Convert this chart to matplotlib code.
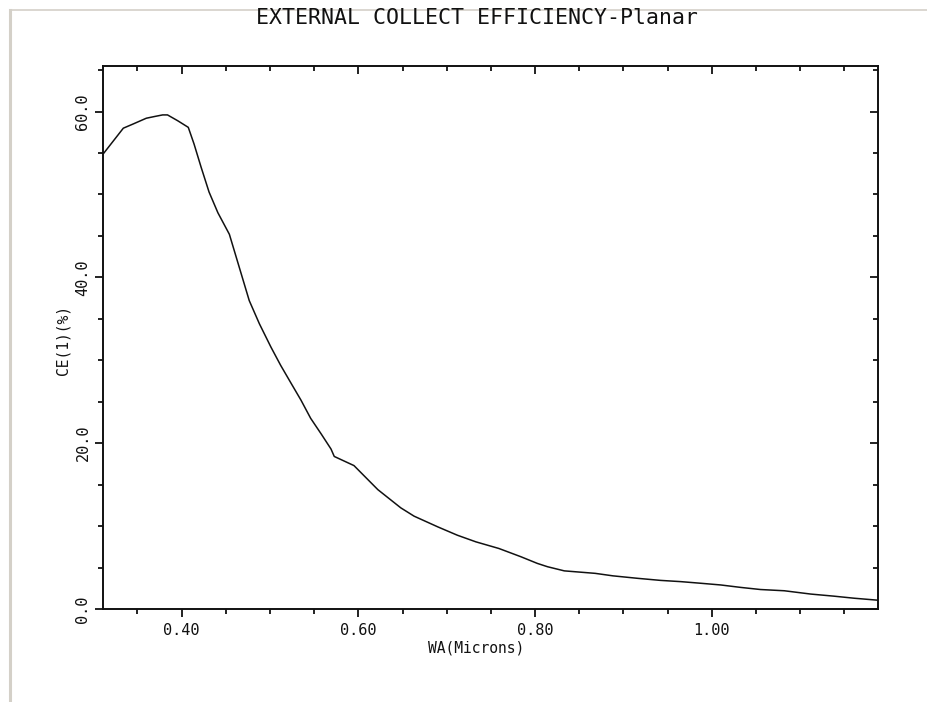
import matplotlib
matplotlib.use("Agg")
import matplotlib.pyplot as plt
from matplotlib.ticker import MultipleLocator, FormatStrFormatter
from matplotlib.lines import Line2D

# Data
wa_microns = [0.312, 0.334, 0.345, 0.360, 0.369, 0.3785, 0.384, 0.3955, 0.4075, 0.414,
              0.422, 0.431, 0.441, 0.454, 0.463, 0.4765, 0.488, 0.501, 0.512, 0.524,
              0.535, 0.546, 0.558, 0.569, 0.5727, 0.595, 0.622, 0.648, 0.663, 0.690,
              0.712, 0.733, 0.759, 0.784, 0.8025, 0.814, 0.833, 0.868, 0.888, 0.916,
              0.942, 0.965, 0.988, 1.010, 1.033, 1.055, 1.082, 1.112, 1.138, 1.161, 1.188]
ce_percent = [55.0, 58.0, 58.5, 59.2, 59.4, 59.6, 59.6, 58.9, 58.1, 56.1,
              53.3, 50.3, 47.8, 45.2, 42.0, 37.2, 34.4, 31.6, 29.4, 27.2,
              25.2, 23.0, 21.1, 19.3, 18.4, 17.3, 14.4, 12.2, 11.2, 9.9,
              8.9, 8.1, 7.3, 6.3, 5.5, 5.1, 4.6, 4.3, 4.0, 3.7,
              3.45, 3.3, 3.1, 2.9, 2.6, 2.35, 2.2, 1.8, 1.55, 1.3, 1.06]

title = "EXTERNAL COLLECT EFFICIENCY-Planar"
x_label = "WA(Microns)"
y_label = "CE(1)(%)"

FONT = "DejaVu Sans Mono"
W, H = 928, 702
fig = plt.figure(figsize=(W / 100, H / 100), dpi=100)
fig.patch.set_facecolor("white")

# window-like border lines (left and top)
fig.add_artist(Line2D([10 / W, 10 / W], [0, 1 - 10 / H], color="#d4d0c8", lw=2.2,
                      transform=fig.transFigure))
fig.add_artist(Line2D([10 / W, 1], [1 - 10 / H, 1 - 10 / H], color="#d4d0c8", lw=1.2,
                      transform=fig.transFigure))

left, right, top, bottom = 103, 878, 66, 609
ax = fig.add_axes([left / W, 1 - bottom / H, (right - left) / W, (bottom - top) / H])
ax.plot(wa_microns, ce_percent, color="#111111", lw=1.1)

ax.set_xlim(0.311, 1.188)
ax.set_ylim(0, 65.5)

for sp in ax.spines.values():
    sp.set_color("#111111")
    sp.set_linewidth(1.4)

ax.xaxis.set_major_locator(MultipleLocator(0.2))
ax.xaxis.set_minor_locator(MultipleLocator(0.05))
ax.yaxis.set_major_locator(MultipleLocator(20))
ax.yaxis.set_minor_locator(MultipleLocator(5))
ax.xaxis.set_major_formatter(FormatStrFormatter("%.2f"))
ax.yaxis.set_major_formatter(FormatStrFormatter("%.1f"))

ax.tick_params(which="major", direction="out", length=5.5, width=1.3, color="#111111",
               labelsize=11, labelcolor="#111111")
ax.tick_params(which="minor", direction="out", length=3.5, width=1.3, color="#111111")
ax.tick_params(axis="x", which="major", pad=4.5)
ax.tick_params(axis="y", which="major", pad=3.5)
for lab in ax.get_xticklabels():
    lab.set_family(FONT)
for lab in ax.get_yticklabels():
    lab.set_family(FONT)
    lab.set_rotation(90)
    lab.set_va("center")

# inward ticks on top and right
sx = ax.secondary_xaxis("top")
sx.xaxis.set_major_locator(MultipleLocator(0.2))
sx.xaxis.set_minor_locator(MultipleLocator(0.05))
sx.tick_params(which="major", direction="in", length=5.5, width=1.3, color="#111111", labeltop=False)
sx.tick_params(which="minor", direction="in", length=3.5, width=1.3, color="#111111")
sy = ax.secondary_yaxis("right")
sy.yaxis.set_major_locator(MultipleLocator(20))
sy.yaxis.set_minor_locator(MultipleLocator(5))
sy.tick_params(which="major", direction="in", length=5.5, width=1.3, color="#111111", labelright=False)
sy.tick_params(which="minor", direction="in", length=3.5, width=1.3, color="#111111")
for s in (sx, sy):
    for sp in s.spines.values():
        sp.set_visible(False)

fig.text(477 / W, 1 - 18 / H, title, family=FONT, fontsize=15.5, color="#111111",
         ha="center", va="center")
fig.text(476 / W, 1 - 648 / H, x_label, family=FONT, fontsize=10.5, color="#111111",
         ha="center", va="center")
fig.text(63 / W, 1 - 340 / H, y_label, family=FONT, fontsize=10.5, color="#111111",
         ha="center", va="center", rotation=90)

fig.savefig("out.png", dpi=100, facecolor="white")
